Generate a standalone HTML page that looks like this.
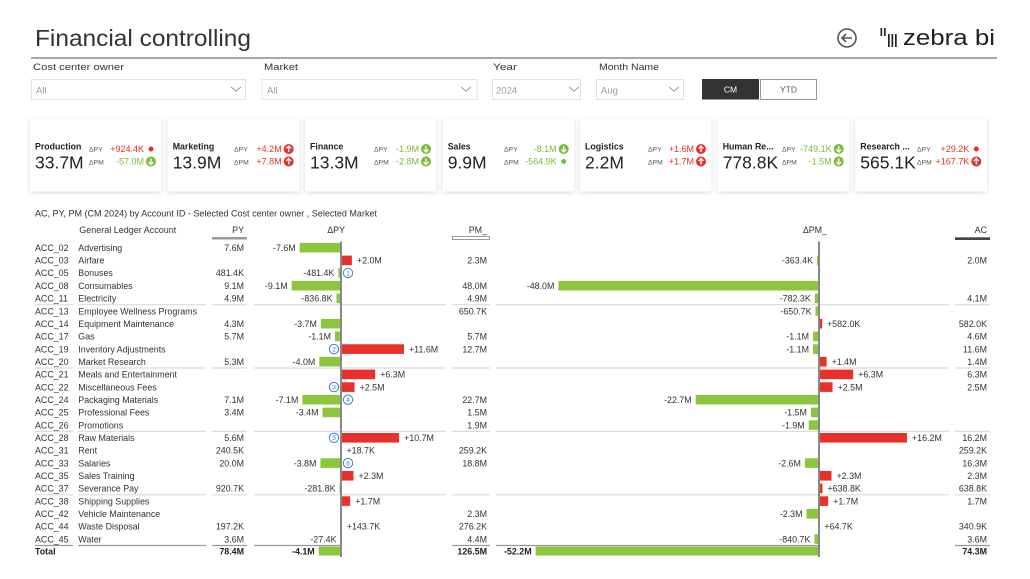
<!DOCTYPE html>
<html><head><meta charset="utf-8"><style>html,body{margin:0;padding:0;background:#fff;}svg{display:block}</style></head>
<body>
<svg width="1030" height="579" viewBox="0 0 1030 579" xmlns="http://www.w3.org/2000/svg" font-family="'Liberation Sans', Arial, sans-serif">
<defs>
<filter id="sh" x="-10%" y="-10%" width="120%" height="130%"><feDropShadow dx="0" dy="1" stdDeviation="2" flood-color="#000" flood-opacity="0.16"/></filter>
</defs>
<rect width="1030" height="579" fill="#fff"/>

<!-- Header -->
<text x="35" y="46" font-size="23" fill="#333" textLength="216" lengthAdjust="spacingAndGlyphs">Financial controlling</text>
<line x1="31" y1="58" x2="997" y2="58" stroke="#8c8c8c" stroke-width="1.5"/>
<circle cx="847" cy="38" r="9" fill="none" stroke="#555" stroke-width="1.6"/>
<path d="M852 38 H842 M846 34 L842 38 L846 42" fill="none" stroke="#555" stroke-width="1.6"/>
<g fill="#222">
<rect x="880.5" y="28" width="1.7" height="8"/>
<rect x="884" y="28" width="1.7" height="8"/>
<rect x="888" y="34" width="1.7" height="13"/>
<rect x="891.5" y="34" width="1.7" height="13"/>
<rect x="895" y="34" width="1.7" height="13"/>
</g>
<text x="903" y="45" font-size="22" fill="#222" textLength="92" lengthAdjust="spacingAndGlyphs">zebra bi</text>

<!-- Filters -->
<g font-size="9.5" fill="#333">
<text x="33" y="70" textLength="91" lengthAdjust="spacingAndGlyphs">Cost center owner</text>
<text x="264" y="70" textLength="34" lengthAdjust="spacingAndGlyphs">Market</text>
<text x="493" y="70" textLength="24" lengthAdjust="spacingAndGlyphs">Year</text>
<text x="599" y="70" textLength="60" lengthAdjust="spacingAndGlyphs">Month Name</text>
</g>
<g fill="#fff" stroke="#e2e2e2" stroke-width="1">
<rect x="31.5" y="79.5" width="214" height="20"/>
<rect x="262" y="79.5" width="215" height="20"/>
<rect x="492.5" y="79.5" width="88" height="20"/>
<rect x="596.5" y="79.5" width="87" height="20"/>
</g>
<g font-size="9.5" fill="#9a9a9a">
<text x="36" y="93.5">All</text>
<text x="267" y="93.5">All</text>
<text x="496" y="93.5">2024</text>
<text x="601" y="93.5">Aug</text>
</g>
<g fill="none" stroke="#999" stroke-width="1">
<path d="M231 87 L236 91 L241 87"/>
<path d="M461 87 L466 91 L471 87"/>
<path d="M569 87 L574 91 L579 87"/>
<path d="M669 87 L674 91 L679 87"/>
</g>
<rect x="702" y="79" width="57" height="20.5" fill="#333"/>
<text x="730.5" y="92.5" font-size="8.5" fill="#fff" text-anchor="middle">CM</text>
<rect x="760.5" y="79.5" width="56" height="20" fill="#fff" stroke="#999"/>
<text x="788.5" y="92.5" font-size="8.5" fill="#555" text-anchor="middle">YTD</text>

<!-- KPI cards -->
<g filter="url(#sh)" fill="#fff">
<rect x="30" y="118.5" width="131.5" height="73"/>
<rect x="167.7" y="118.5" width="131.5" height="73"/>
<rect x="305" y="118.5" width="131.5" height="73"/>
<rect x="442.7" y="118.5" width="131.5" height="73"/>
<rect x="580" y="118.5" width="131.5" height="73"/>
<rect x="717.7" y="118.5" width="131.5" height="73"/>
<rect x="855.3" y="118.5" width="131.5" height="73"/>
</g>
<g font-size="8.8" font-weight="bold" fill="#222">
<text x="35" y="149.5">Production</text>
<text x="172.7" y="149.5">Marketing</text>
<text x="310" y="149.5">Finance</text>
<text x="447.7" y="149.5">Sales</text>
<text x="585" y="149.5">Logistics</text>
<text x="722.7" y="149.5">Human Re...</text>
<text x="860.3" y="149.5">Research ...</text>
</g>
<g font-size="17.5" fill="#222">
<text x="35" y="168.5">33.7M</text>
<text x="172.7" y="168.5">13.9M</text>
<text x="310" y="168.5">13.3M</text>
<text x="447.7" y="168.5">9.9M</text>
<text x="585" y="168.5">2.2M</text>
<text x="722.7" y="168.5">778.8K</text>
<text x="860.3" y="168.5">565.1K</text>
</g>
<g font-size="6.8" fill="#555">
<text x="89" y="151.5">ΔPY</text><text x="89" y="164.5">ΔPM</text>
<text x="234" y="151.5">ΔPY</text><text x="234" y="164.5">ΔPM</text>
<text x="374" y="151.5">ΔPY</text><text x="374" y="164.5">ΔPM</text>
<text x="504" y="151.5">ΔPY</text><text x="504" y="164.5">ΔPM</text>
<text x="648" y="151.5">ΔPY</text><text x="648" y="164.5">ΔPM</text>
<text x="782" y="151.5">ΔPY</text><text x="782" y="164.5">ΔPM</text>
<text x="917" y="151.5">ΔPY</text><text x="917" y="164.5">ΔPM</text>
</g>
<g font-size="9" text-anchor="end">
<text x="144" y="152" fill="#e8312a">+924.4K</text><text x="144" y="164.5" fill="#7cbb37">-57.0M</text>
<text x="281.7" y="152" fill="#e8312a">+4.2M</text><text x="281.7" y="164.5" fill="#e8312a">+7.8M</text>
<text x="419" y="152" fill="#7cbb37">-1.9M</text><text x="419" y="164.5" fill="#7cbb37">-2.8M</text>
<text x="556.7" y="152" fill="#7cbb37">-8.1M</text><text x="556.7" y="164.5" fill="#7cbb37">-564.9K</text>
<text x="694" y="152" fill="#e8312a">+1.6M</text><text x="694" y="164.5" fill="#e8312a">+1.7M</text>
<text x="831.7" y="152" fill="#7cbb37">-749.1K</text><text x="831.7" y="164.5" fill="#7cbb37">-1.5M</text>
<text x="969.3" y="152" fill="#e8312a">+29.2K</text><text x="969.3" y="164.5" fill="#e8312a">+167.7K</text>
</g>
<!-- indicators -->
<g>
<circle cx="151" cy="149" r="2.5" fill="#e8312a"/>
<circle cx="151" cy="161.5" r="5" fill="#7cbb37"/><path d="M151 158.5 V164.3 M148.6 162 L151 164.5 L153.4 162" stroke="#fff" stroke-width="1.3" fill="none"/>
<circle cx="288.7" cy="149" r="5" fill="#e8312a"/><path d="M288.7 152 V146.2 M286.3 148.5 L288.7 146 L291.1 148.5" stroke="#fff" stroke-width="1.3" fill="none"/>
<circle cx="288.7" cy="161.5" r="5" fill="#e8312a"/><path d="M288.7 164.5 V158.7 M286.3 161 L288.7 158.5 L291.1 161" stroke="#fff" stroke-width="1.3" fill="none"/>
<circle cx="426" cy="149" r="5" fill="#7cbb37"/><path d="M426 146 V151.8 M423.6 149.5 L426 152 L428.4 149.5" stroke="#fff" stroke-width="1.3" fill="none"/>
<circle cx="426" cy="161.5" r="5" fill="#7cbb37"/><path d="M426 158.5 V164.3 M423.6 162 L426 164.5 L428.4 162" stroke="#fff" stroke-width="1.3" fill="none"/>
<circle cx="563.7" cy="149" r="5" fill="#7cbb37"/><path d="M563.7 146 V151.8 M561.3 149.5 L563.7 152 L566.1 149.5" stroke="#fff" stroke-width="1.3" fill="none"/>
<circle cx="563.7" cy="161.5" r="2.5" fill="#7cbb37"/>
<circle cx="701" cy="149" r="5" fill="#e8312a"/><path d="M701 152 V146.2 M698.6 148.5 L701 146 L703.4 148.5" stroke="#fff" stroke-width="1.3" fill="none"/>
<circle cx="701" cy="161.5" r="5" fill="#e8312a"/><path d="M701 164.5 V158.7 M698.6 161 L701 158.5 L703.4 161" stroke="#fff" stroke-width="1.3" fill="none"/>
<circle cx="838.7" cy="149" r="5" fill="#7cbb37"/><path d="M838.7 146 V151.8 M836.3 149.5 L838.7 152 L841.1 149.5" stroke="#fff" stroke-width="1.3" fill="none"/>
<circle cx="838.7" cy="161.5" r="5" fill="#7cbb37"/><path d="M838.7 158.5 V164.3 M836.3 162 L838.7 164.5 L841.1 162" stroke="#fff" stroke-width="1.3" fill="none"/>
<circle cx="976.3" cy="149" r="2.5" fill="#e8312a"/>
<circle cx="976.3" cy="161.5" r="5" fill="#e8312a"/><path d="M976.3 164.5 V158.7 M973.9 161 L976.3 158.5 L978.7 161" stroke="#fff" stroke-width="1.3" fill="none"/>
</g>

<!-- Table title & headers -->
<text x="35" y="216.5" font-size="9" fill="#333" textLength="342" lengthAdjust="spacingAndGlyphs">AC, PY, PM (CM 2024) by Account ID - Selected Cost center owner , Selected Market</text>
<g font-size="8.9" fill="#333">
<text x="79.3" y="233" textLength="97" lengthAdjust="spacingAndGlyphs">General Ledger Account</text>
<text x="244" y="233" text-anchor="end">PY</text>
<text x="345" y="233" text-anchor="end">ΔPY</text>
<text x="487" y="233" text-anchor="end">PM_</text>
<text x="827" y="233" text-anchor="end">ΔPM_</text>
<text x="987" y="233" text-anchor="end">AC</text>
</g>
<rect x="212" y="237" width="35" height="2.5" fill="#999"/>
<rect x="452.5" y="236.5" width="37" height="3" fill="#fff" stroke="#999" stroke-width="1"/>
<rect x="955" y="237.3" width="35" height="2.7" fill="#444"/>

<!-- separators -->
<g stroke="#dcdcdc" stroke-width="1.2">
<path d="M35 304.7H73 M78 304.7H206 M212 304.7H247 M254 304.7H446 M452 304.7H490 M496 304.7H949 M955 304.7H990"/>
<path d="M35 368H73 M78 368H206 M212 368H247 M254 368H446 M452 368H490 M496 368H949 M955 368H990"/>
<path d="M35 431.4H73 M78 431.4H206 M212 431.4H247 M254 431.4H446 M452 431.4H490 M496 431.4H949 M955 431.4H990"/>
<path d="M35 494.8H73 M78 494.8H206 M212 494.8H247 M254 494.8H446 M452 494.8H490 M496 494.8H949 M955 494.8H990"/>
</g>
<path d="M35 545.5H73 M78 545.5H206 M212 545.5H247 M254 545.5H341 M452 545.5H490 M496 545.5H819 M955 545.5H990" stroke="#999" stroke-width="1.3"/>

<!-- rows: IDs & names & PY -->
<g font-size="8.9" fill="#333">
<text x="35" y="250.9">ACC_02</text><text x="78.3" y="250.9">Advertising</text>
<text x="35" y="263.6">ACC_03</text><text x="78.3" y="263.6">Airfare</text>
<text x="35" y="276.2">ACC_05</text><text x="78.3" y="276.2">Bonuses</text>
<text x="35" y="288.9">ACC_08</text><text x="78.3" y="288.9">Consumables</text>
<text x="35" y="301.6">ACC_11</text><text x="78.3" y="301.6">Electricity</text>
<text x="35" y="314.3">ACC_13</text><text x="78.3" y="314.3">Employee Wellness Programs</text>
<text x="35" y="326.9">ACC_14</text><text x="78.3" y="326.9">Equipment Maintenance</text>
<text x="35" y="339.6">ACC_17</text><text x="78.3" y="339.6">Gas</text>
<text x="35" y="352.3">ACC_19</text><text x="78.3" y="352.3">Inventory Adjustments</text>
<text x="35" y="364.9">ACC_20</text><text x="78.3" y="364.9">Market Research</text>
<text x="35" y="377.6">ACC_21</text><text x="78.3" y="377.6">Meals and Entertainment</text>
<text x="35" y="390.3">ACC_22</text><text x="78.3" y="390.3">Miscellaneous Fees</text>
<text x="35" y="402.9">ACC_24</text><text x="78.3" y="402.9">Packaging Materials</text>
<text x="35" y="415.6">ACC_25</text><text x="78.3" y="415.6">Professional Fees</text>
<text x="35" y="428.3">ACC_26</text><text x="78.3" y="428.3">Promotions</text>
<text x="35" y="441">ACC_28</text><text x="78.3" y="441">Raw Materials</text>
<text x="35" y="453.6">ACC_31</text><text x="78.3" y="453.6">Rent</text>
<text x="35" y="466.3">ACC_33</text><text x="78.3" y="466.3">Salaries</text>
<text x="35" y="479">ACC_35</text><text x="78.3" y="479">Sales Training</text>
<text x="35" y="491.6">ACC_37</text><text x="78.3" y="491.6">Severance Pay</text>
<text x="35" y="504.3">ACC_38</text><text x="78.3" y="504.3">Shipping Supplies</text>
<text x="35" y="517">ACC_42</text><text x="78.3" y="517">Vehicle Maintenance</text>
<text x="35" y="529.6">ACC_44</text><text x="78.3" y="529.6">Waste Disposal</text>
<text x="35" y="542.3">ACC_45</text><text x="78.3" y="542.3">Water</text>
</g>
<g font-size="8.9" fill="#333" text-anchor="end">
<!-- PY -->
<text x="244" y="250.9">7.6M</text>
<text x="244" y="276.2">481.4K</text>
<text x="244" y="288.9">9.1M</text>
<text x="244" y="301.6">4.9M</text>
<text x="244" y="326.9">4.3M</text>
<text x="244" y="339.6">5.7M</text>
<text x="244" y="364.9">5.3M</text>
<text x="244" y="402.9">7.1M</text>
<text x="244" y="415.6">3.4M</text>
<text x="244" y="441">5.6M</text>
<text x="244" y="453.6">240.5K</text>
<text x="244" y="466.3">20.0M</text>
<text x="244" y="491.6">920.7K</text>
<text x="244" y="529.6">197.2K</text>
<text x="244" y="542.3">3.6M</text>
<!-- PM_ -->
<text x="487" y="263.6">2.3M</text>
<text x="487" y="288.9">48.0M</text>
<text x="487" y="301.6">4.9M</text>
<text x="487" y="314.3">650.7K</text>
<text x="487" y="339.6">5.7M</text>
<text x="487" y="352.3">12.7M</text>
<text x="487" y="402.9">22.7M</text>
<text x="487" y="415.6">1.5M</text>
<text x="487" y="428.3">1.9M</text>
<text x="487" y="453.6">259.2K</text>
<text x="487" y="466.3">18.8M</text>
<text x="487" y="517">2.3M</text>
<text x="487" y="529.6">276.2K</text>
<text x="487" y="542.3">4.4M</text>
<!-- AC -->
<text x="987" y="263.6">2.0M</text>
<text x="987" y="301.6">4.1M</text>
<text x="987" y="326.9">582.0K</text>
<text x="987" y="339.6">4.6M</text>
<text x="987" y="352.3">11.6M</text>
<text x="987" y="364.9">1.4M</text>
<text x="987" y="377.6">6.3M</text>
<text x="987" y="390.3">2.5M</text>
<text x="987" y="441">16.2M</text>
<text x="987" y="453.6">259.2K</text>
<text x="987" y="466.3">16.3M</text>
<text x="987" y="479">2.3M</text>
<text x="987" y="491.6">638.8K</text>
<text x="987" y="504.3">1.7M</text>
<text x="987" y="529.6">340.9K</text>
<text x="987" y="542.3">3.6M</text>
</g>

<!-- ΔPY bars -->
<g fill="#8cc63f">
<rect x="299.7" y="242.9" width="41.3" height="9.6"/>
<rect x="338.4" y="268.2" width="2.6" height="9.6"/>
<rect x="291.6" y="280.9" width="49.4" height="9.6"/>
<rect x="336.5" y="293.6" width="4.5" height="9.6"/>
<rect x="320.9" y="318.9" width="20.1" height="9.6"/>
<rect x="335" y="331.6" width="6" height="9.6"/>
<rect x="319.3" y="356.9" width="21.7" height="9.6"/>
<rect x="302.4" y="394.9" width="38.6" height="9.6"/>
<rect x="322.5" y="407.6" width="18.5" height="9.6"/>
<rect x="320.4" y="458.3" width="20.6" height="9.6"/>
<rect x="339.5" y="483.6" width="1.5" height="9.6"/>
<rect x="340.5" y="534.3" width="0.5" height="9.6"/>
<rect x="318.7" y="546.5" width="22.3" height="9"/>
</g>
<g fill="#e8312a">
<rect x="341" y="255.6" width="10.9" height="9.6"/>
<rect x="341" y="344.3" width="63" height="9.6"/>
<rect x="341" y="369.6" width="34.2" height="9.6"/>
<rect x="341" y="382.3" width="13.6" height="9.6"/>
<rect x="341" y="433" width="58.1" height="9.6"/>
<rect x="341" y="445.6" width="0.4" height="9.6"/>
<rect x="341" y="471" width="12.5" height="9.6"/>
<rect x="341" y="496.3" width="9.2" height="9.6"/>
<rect x="341" y="521.6" width="0.9" height="9.6"/>
</g>
<line x1="341" y1="241.5" x2="341" y2="557" stroke="#888" stroke-width="2"/>
<g font-size="8.9" fill="#333" text-anchor="end">
<text x="295.7" y="250.9">-7.6M</text>
<text x="334.4" y="276.2">-481.4K</text>
<text x="287.6" y="288.9">-9.1M</text>
<text x="332.5" y="301.6">-836.8K</text>
<text x="316.9" y="326.9">-3.7M</text>
<text x="331" y="339.6">-1.1M</text>
<text x="315.3" y="364.9">-4.0M</text>
<text x="298.4" y="402.9">-7.1M</text>
<text x="318.5" y="415.6">-3.4M</text>
<text x="316.4" y="466.3">-3.8M</text>
<text x="335.5" y="491.6">-281.8K</text>
<text x="336.5" y="542.3">-27.4K</text>
</g>
<g font-size="8.9" fill="#333">
<text x="356.9" y="263.6">+2.0M</text>
<text x="409" y="352.3">+11.6M</text>
<text x="380.2" y="377.6">+6.3M</text>
<text x="359.6" y="390.3">+2.5M</text>
<text x="404.1" y="441">+10.7M</text>
<text x="346.5" y="453.6">+18.7K</text>
<text x="358.5" y="479">+2.3M</text>
<text x="355.2" y="504.3">+1.7M</text>
<text x="346.8" y="529.6">+143.7K</text>
</g>
<!-- circles -->
<g fill="#fff" stroke="#3b7dd8" stroke-width="1">
<circle cx="348" cy="273" r="4.7"/>
<circle cx="334" cy="349.1" r="4.7"/>
<circle cx="334" cy="387.1" r="4.7"/>
<circle cx="348" cy="399.7" r="4.7"/>
<circle cx="334" cy="437.8" r="4.7"/>
<circle cx="348" cy="463.1" r="4.7"/>
</g>
<g font-size="6.5" fill="#3b7dd8" text-anchor="middle">
<text x="348" y="275.4">1</text>
<text x="334" y="351.5">2</text>
<text x="334" y="389.5">3</text>
<text x="348" y="402.1">4</text>
<text x="334" y="440.2">5</text>
<text x="348" y="465.5">6</text>
</g>

<!-- ΔPM bars -->
<g fill="#8cc63f">
<rect x="817" y="255.6" width="2" height="9.6"/>
<rect x="558.4" y="280.9" width="260.6" height="9.6"/>
<rect x="814.8" y="293.6" width="4.2" height="9.6"/>
<rect x="815.5" y="306.3" width="3.5" height="9.6"/>
<rect x="813" y="331.6" width="6" height="9.6"/>
<rect x="813" y="344.3" width="6" height="9.6"/>
<rect x="695.7" y="394.9" width="123.3" height="9.6"/>
<rect x="810.9" y="407.6" width="8.1" height="9.6"/>
<rect x="808.7" y="420.3" width="10.3" height="9.6"/>
<rect x="804.9" y="458.3" width="14.1" height="9.6"/>
<rect x="806.5" y="509" width="12.5" height="9.6"/>
<rect x="814.4" y="534.3" width="4.6" height="9.6"/>
<rect x="535.6" y="546.5" width="283.4" height="9"/>
</g>
<g fill="#e8312a">
<rect x="819" y="318.9" width="3.2" height="9.6"/>
<rect x="819" y="356.9" width="7.6" height="9.6"/>
<rect x="819" y="369.6" width="34.2" height="9.6"/>
<rect x="819" y="382.3" width="13.6" height="9.6"/>
<rect x="819" y="433" width="88" height="9.6"/>
<rect x="819" y="471" width="12.5" height="9.6"/>
<rect x="819" y="483.6" width="3.5" height="9.6"/>
<rect x="819" y="496.3" width="9.2" height="9.6"/>
<rect x="819" y="521.6" width="0.4" height="9.6"/>
</g>
<line x1="819" y1="241.5" x2="819" y2="557" stroke="#888" stroke-width="2"/>
<g font-size="8.9" fill="#333" text-anchor="end">
<text x="813" y="263.6">-363.4K</text>
<text x="554.4" y="288.9">-48.0M</text>
<text x="810.8" y="301.6">-782.3K</text>
<text x="811.5" y="314.3">-650.7K</text>
<text x="809" y="339.6">-1.1M</text>
<text x="809" y="352.3">-1.1M</text>
<text x="691.7" y="402.9">-22.7M</text>
<text x="806.9" y="415.6">-1.5M</text>
<text x="804.7" y="428.3">-1.9M</text>
<text x="800.9" y="466.3">-2.6M</text>
<text x="802.5" y="517">-2.3M</text>
<text x="810.4" y="542.3">-840.7K</text>
</g>
<g font-size="8.9" fill="#333">
<text x="827" y="326.9">+582.0K</text>
<text x="831.6" y="364.9">+1.4M</text>
<text x="858.2" y="377.6">+6.3M</text>
<text x="837.6" y="390.3">+2.5M</text>
<text x="912" y="441">+16.2M</text>
<text x="836.5" y="479">+2.3M</text>
<text x="827.5" y="491.6">+638.8K</text>
<text x="833.2" y="504.3">+1.7M</text>
<text x="824.4" y="529.6">+64.7K</text>
</g>

<!-- Total row -->
<g font-size="8.9" fill="#222" font-weight="bold">
<text x="35" y="554.5">Total</text>
<text x="244" y="554.5" text-anchor="end">78.4M</text>
<text x="314.7" y="554.5" text-anchor="end">-4.1M</text>
<text x="487" y="554.5" text-anchor="end">126.5M</text>
<text x="531.6" y="554.5" text-anchor="end">-52.2M</text>
<text x="987" y="554.5" text-anchor="end">74.3M</text>
</g>
</svg>
</body></html>
